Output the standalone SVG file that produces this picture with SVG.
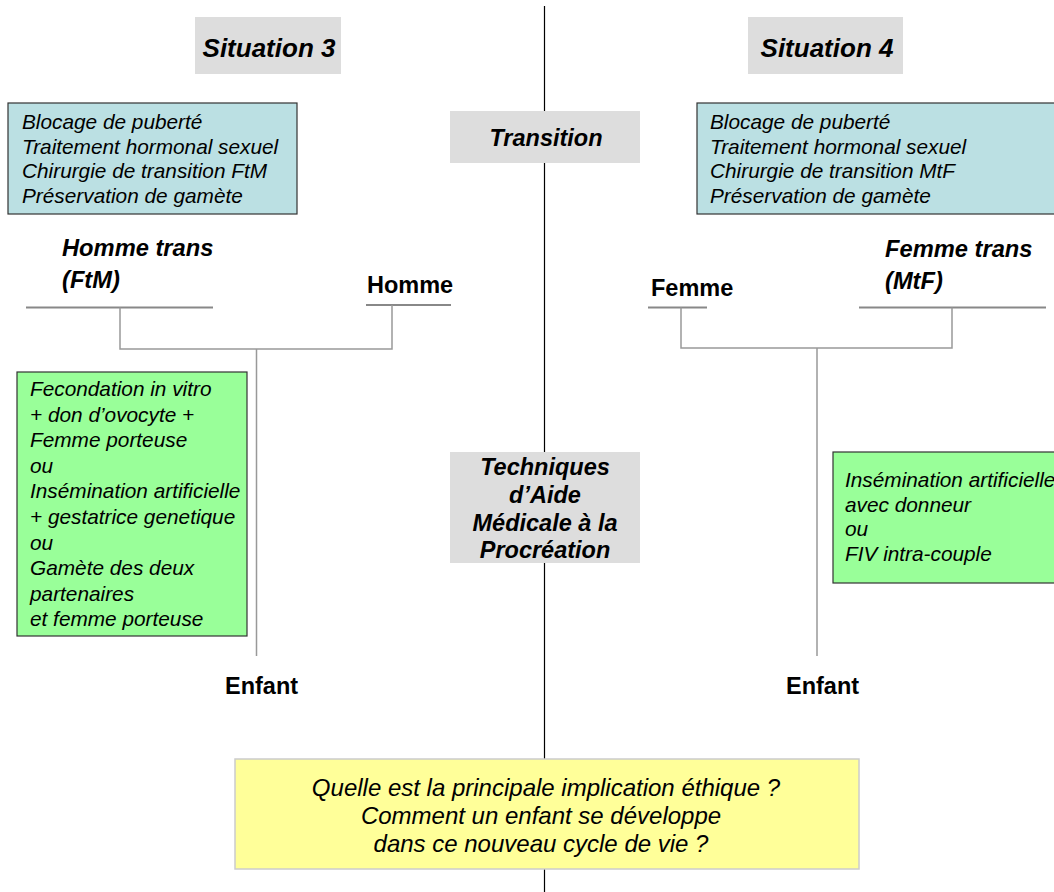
<svg xmlns="http://www.w3.org/2000/svg" width="1054" height="892" viewBox="0 0 1054 892">
<style>
text{font-family:"Liberation Sans",Arial,sans-serif;fill:#000}
.h{font-weight:bold;font-style:italic;font-size:26px;text-anchor:middle}
.c{font-weight:bold;font-style:italic;font-size:23.5px;text-anchor:middle}
.b{font-style:italic;font-size:20.8px}
.p{font-weight:bold;font-size:23.5px}
.pi{font-weight:bold;font-style:italic;font-size:23.7px}
.q{font-style:italic;font-size:24px;text-anchor:middle}
.gray{fill:#dddddd;stroke:none}
.blue{fill:#bbe0e3;stroke:#333;stroke-width:1.2}
.green{fill:#99ff99;stroke:#333;stroke-width:1.2}
.yellow{fill:#ffff99;stroke:#cccccc;stroke-width:1.5}
.hl{stroke:#888;stroke-width:2;fill:none}
.vl{stroke:#999;stroke-width:1.5;fill:none}
</style>
<rect width="1054" height="892" fill="#fff"/>
<g id="connectors">
<line x1="544.5" y1="6" x2="544.5" y2="892" stroke="#000" stroke-width="1.2"/>
<line class="hl" x1="26" y1="307.5" x2="213" y2="307.5"/>
<line class="hl" x1="366" y1="305" x2="451" y2="305"/>
<polyline class="vl" points="120,307.5 120,349 392,349 392,305"/>
<line class="vl" x1="256.5" y1="349" x2="256.5" y2="656"/>
<line class="hl" x1="648" y1="307.5" x2="707" y2="307.5"/>
<line class="hl" x1="859" y1="307.5" x2="1046" y2="307.5"/>
<polyline class="vl" points="681,307.5 681,348 952,348 952,307.5"/>
<line class="vl" x1="817" y1="348" x2="817" y2="656"/>
</g>
<g id="situation3"><rect class="gray" x="195" y="17" width="146" height="57"/><text class="h" x="269" y="57">Situation 3</text></g>
<g id="situation4"><rect class="gray" x="748" y="17" width="155" height="57"/><text class="h" x="827" y="57">Situation 4</text></g>
<g id="transition"><rect class="gray" x="450" y="111" width="190" height="52"/><text class="c" x="546" y="146">Transition</text></g>
<g id="transition-left"><rect class="blue" x="8" y="103" width="289" height="111"/>
<text class="b"><tspan x="22" y="129">Blocage de puberté</tspan><tspan x="22" y="153.5">Traitement hormonal sexuel</tspan><tspan x="22" y="178">Chirurgie de transition FtM</tspan><tspan x="22" y="202.5">Préservation de gamète</tspan></text></g>
<g id="transition-right"><rect class="blue" x="697" y="103" width="370" height="111"/>
<text class="b"><tspan x="710" y="129">Blocage de puberté</tspan><tspan x="710" y="153.5">Traitement hormonal sexuel</tspan><tspan x="710" y="178">Chirurgie de transition MtF</tspan><tspan x="710" y="202.5">Préservation de gamète</tspan></text></g>
<g id="homme-trans"><text class="pi"><tspan x="62" y="256">Homme trans</tspan><tspan x="62" y="288">(FtM)</tspan></text></g>
<g id="homme"><text class="p" x="367" y="293">Homme</text></g>
<g id="femme"><text class="p" x="651" y="296">Femme</text></g>
<g id="femme-trans"><text class="pi"><tspan x="885" y="257">Femme trans</tspan><tspan x="885" y="289">(MtF)</tspan></text></g>
<g id="amp"><rect class="gray" x="450" y="452" width="190" height="111"/>
<text class="c"><tspan x="545" y="475">Techniques</tspan><tspan x="545" y="503">d’Aide</tspan><tspan x="545" y="531">Médicale à la</tspan><tspan x="545" y="558">Procréation</tspan></text></g>
<g id="amp-left"><rect class="green" x="17" y="372" width="230" height="264"/>
<text class="b"><tspan x="30" y="396">Fecondation in vitro</tspan><tspan x="30" y="421.6">+ don d’ovocyte +</tspan><tspan x="30" y="447.2">Femme porteuse</tspan><tspan x="30" y="472.8">ou</tspan><tspan x="30" y="498.4">Insémination artificielle</tspan><tspan x="30" y="524">+ gestatrice genetique</tspan><tspan x="30" y="549.6">ou</tspan><tspan x="30" y="575.2">Gamète des deux</tspan><tspan x="30" y="600.8">partenaires</tspan><tspan x="30" y="626.4">et femme porteuse</tspan></text></g>
<g id="amp-right"><rect class="green" x="833" y="452" width="240" height="131"/>
<text class="b"><tspan x="845" y="487">Insémination artificielle</tspan><tspan x="845" y="511.5">avec donneur</tspan><tspan x="845" y="536">ou</tspan><tspan x="845" y="560.5">FIV intra-couple</tspan></text></g>
<g id="enfant-left"><text class="p" x="225" y="694">Enfant</text></g>
<g id="enfant-right"><text class="p" x="786" y="694">Enfant</text></g>
<g id="question"><rect class="yellow" x="235" y="759" width="624" height="110"/>
<text class="q"><tspan x="546" y="796">Quelle est la principale implication éthique ?</tspan><tspan x="541" y="824">Comment un enfant se développe</tspan><tspan x="541" y="852">dans ce nouveau cycle de vie ?</tspan></text></g>
</svg>
